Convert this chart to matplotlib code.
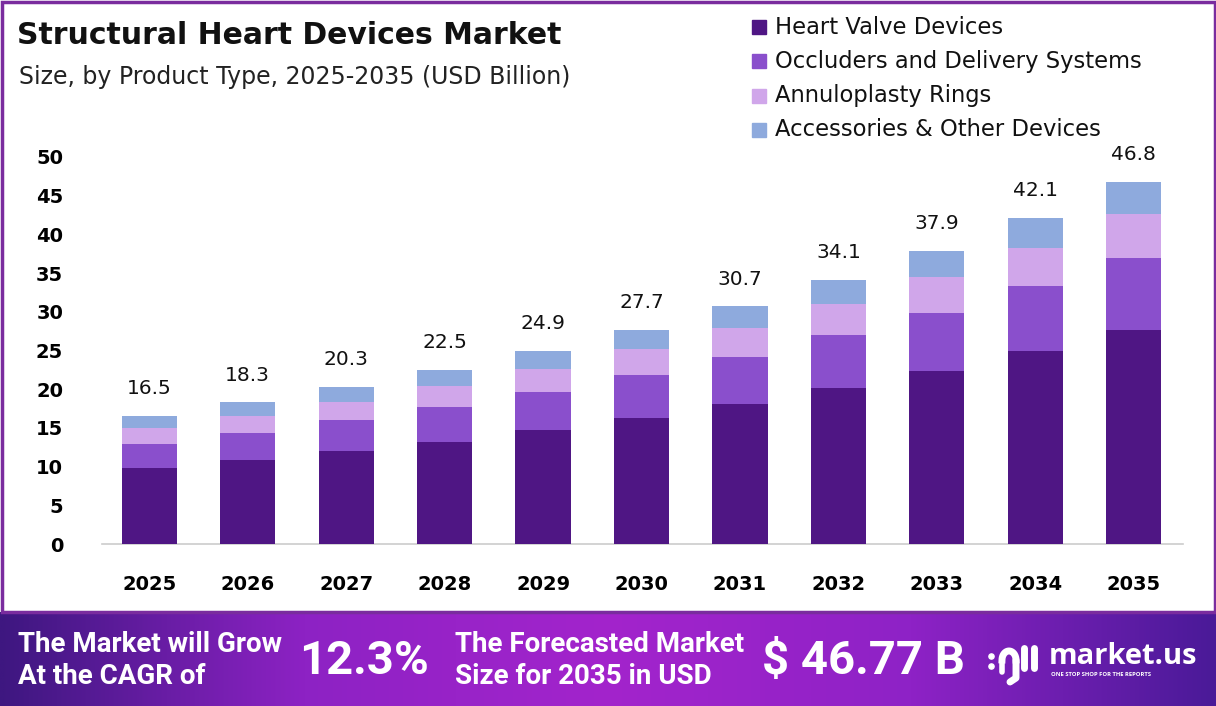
import numpy as np
import matplotlib
matplotlib.use('Agg')
import matplotlib.pyplot as plt
from matplotlib.patches import Rectangle
from matplotlib.colors import LinearSegmentedColormap

# 数据
years = ['2025', '2026', '2027', '2028', '2029', '2030', '2031', '2032', '2033', '2034', '2035']
heart_valve = [9.8, 10.9, 12.0, 13.2, 14.7, 16.3, 18.1, 20.1, 22.3, 24.9, 27.7]
occluders = [3.1, 3.5, 4.0, 4.5, 5.0, 5.5, 6.1, 6.9, 7.6, 8.4, 9.3]
annuloplasty = [2.1, 2.2, 2.4, 2.7, 2.9, 3.4, 3.7, 4.0, 4.6, 4.9, 5.6]
accessories = [1.5, 1.7, 1.9, 2.1, 2.3, 2.5, 2.8, 3.1, 3.4, 3.9, 4.2]
totals = [16.5, 18.3, 20.3, 22.5, 24.9, 27.7, 30.7, 34.1, 37.9, 42.1, 46.8]
series_names = ['Heart Valve Devices', 'Occluders and Delivery Systems',
                'Annuloplasty Rings', 'Accessories & Other Devices']
y_ticks = [0, 5, 10, 15, 20, 25, 30, 35, 40, 45, 50]

colors = ['#4f1684', '#8a4fcc', '#d0a6ea', '#8eaadd']
font = 'DejaVu Sans'

W, H = 1216, 706
fig = plt.figure(figsize=(W / 100, H / 100), dpi=100)
fig.patch.set_facecolor('white')


def fx(px):
    return px / W


def fy(py):
    return 1 - py / H


# 主图区域
ax = fig.add_axes([fx(102), fy(544), fx(1183 - 102), (544 - 157) / H])
x = np.arange(len(years))
series = [heart_valve, occluders, annuloplasty, accessories]
bottom = np.zeros(len(years))
for vals, c, name in zip(series, colors, series_names):
    ax.bar(x, vals, bottom=bottom, width=0.56, color=c, label=name, zorder=3)
    bottom += np.array(vals)

for xi, t in zip(x, totals):
    ax.text(xi, t + 2.3, f'{t}', ha='center', va='bottom', fontsize=14.5,
            family=font, color='#111111')

ax.set_xlim(-0.48, 10.5)
ax.set_ylim(0, 50)
ax.set_xticks(x)
ax.set_xticklabels(years, fontsize=14, fontweight='bold', family=font)
ax.set_yticks(y_ticks)
ax.set_yticklabels([str(v) for v in y_ticks], fontsize=14, fontweight='bold', family=font)
ax.tick_params(axis='both', length=0)
ax.tick_params(axis='x', pad=22)
ax.tick_params(axis='y', pad=28)
for s in ['top', 'right', 'left']:
    ax.spines[s].set_visible(False)
ax.spines['bottom'].set_color('#cccccc')
ax.spines['bottom'].set_linewidth(1.2)

# 标题
fig.text(fx(17), fy(35), 'Structural Heart Devices Market', fontsize=21.5,
         fontweight='bold', family=font, va='center', ha='left', color='#111111')
fig.text(fx(19), fy(77), 'Size, by Product Type, 2025-2035 (USD Billion)', fontsize=17,
         family=font, va='center', ha='left', color='#222222')

# 图例
for i, (name, c) in enumerate(zip(series_names, colors)):
    yc = 27 + i * 34.3
    fig.patches.append(Rectangle((fx(752), fy(yc + 7)), fx(14), 14 / H,
                                 transform=fig.transFigure, color=c))
    fig.text(fx(775), fy(yc), name, fontsize=16.3, family=font,
             va='center', ha='left', color='#111111')

# 外框
fig.patches.append(Rectangle((fx(1.5), fy(612)), fx(W - 3), (612 - 1.5) / H,
                             transform=fig.transFigure, fill=False,
                             edgecolor='#7a2c9e', lw=2.5))

# 底部横幅
bax = fig.add_axes([0, 0, 1, 94 / H])
cmap = LinearSegmentedColormap.from_list('banner', [
    (0.0, '#3e1780'), (0.25, '#8d22c4'), (0.5, '#a324cc'),
    (0.75, '#8e22c6'), (1.0, '#4a1a98')])
grad = np.linspace(0, 1, 512).reshape(1, -1)
bax.imshow(grad, aspect='auto', cmap=cmap, extent=[0, W, 0, 94])
bax.set_xlim(0, W)
bax.set_ylim(0, 94)
bax.axis('off')

bfont = 'Roboto'
bax.text(18, 94 - 32, 'The Market will Grow', color='white', fontsize=20,
         fontweight='bold', family=bfont, va='center', ha='left')
bax.text(18, 94 - 65, 'At the CAGR of', color='white', fontsize=20,
         fontweight='bold', family=bfont, va='center', ha='left')
bax.text(299, 94 - 49, '12.3%', color='white', fontsize=34,
         fontweight='bold', family=bfont, va='center', ha='left')
bax.text(455, 94 - 32, 'The Forecasted Market', color='white', fontsize=20,
         fontweight='bold', family=bfont, va='center', ha='left')
bax.text(455, 94 - 65, 'Size for 2035 in USD', color='white', fontsize=20,
         fontweight='bold', family=bfont, va='center', ha='left')
bax.text(762, 94 - 49, '$ 46.77 B', color='white', fontsize=34,
         fontweight='bold', family=bfont, va='center', ha='left')

# 标志
bax.text(1049, 94 - 44, 'market.us', color='white', fontsize=21,
         fontweight='bold', family='Open Sans', va='center', ha='left')
bax.text(1051, 94 - 62, 'ONE STOP SHOP FOR THE REPORTS', color='white', fontsize=4.2,
         fontweight='bold', family='Open Sans', va='center', ha='left')
bax.plot([1002, 1002], [94 - 46, 94 - 60], color='white', lw=4, solid_capstyle='round')
bax.plot([1024, 1024], [94 - 36, 94 - 56], color='white', lw=5, solid_capstyle='round')
bax.plot([1034, 1034], [94 - 36, 94 - 56], color='white', lw=5, solid_capstyle='round')
t = np.linspace(0, np.pi, 30)
bax.plot(1009 + 7 * np.cos(t), 94 - 48 + 9 * np.sin(t), color='white', lw=5)
bax.plot([1016, 1016, 1010], [94 - 48, 94 - 66, 94 - 70], color='white', lw=5,
         solid_capstyle='round')
bax.scatter([991, 991], [94 - 44, 94 - 54], s=14, color='white', zorder=5)

fig.savefig('out.png', dpi=100, facecolor='white')
